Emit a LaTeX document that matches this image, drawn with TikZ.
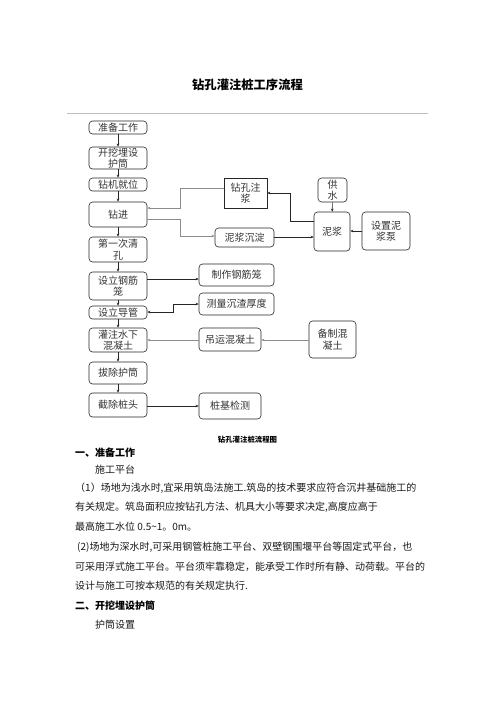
\documentclass[tikz,border=0pt]{standalone}
\usepackage{fontspec}
\setmainfont{Noto Sans CJK SC}
\usetikzlibrary{arrows.meta}
\begin{document}
\begin{tikzpicture}[x=1pt,y=-1pt,
  box/.style={draw=black!85, line width=0.6pt, rounded corners=3.5pt, align=center, inner sep=0pt,
    font=\fontsize{10}{11.5}\selectfont, text=black!80},
  sqbox/.style={box, rounded corners=0pt},
  arr/.style={-{Stealth[length=3pt,width=2.6pt]}, line width=0.6pt, draw=black!85},
  garr/.style={arr, draw=black!45},
  darr/.style={{Stealth[length=3pt,width=2.6pt]}-{Stealth[length=3pt,width=2.6pt]}, line width=0.6pt, draw=black!85},
  body/.style={anchor=west, inner sep=0pt, font=\fontsize{10}{12}\selectfont, text=black!90},
  head/.style={body, font=\fontsize{10}{12}\selectfont\bfseries, text=black}
]
\useasboundingbox (0,0) rectangle (496,702);

% title and rule
\node[inner sep=0pt, font=\fontsize{12.3}{14}\selectfont\bfseries] (title) at (247.5,85) {钻孔灌注桩工序流程};
\coordinate (rl) at (67,113.5);
\coordinate (rr) at (428,113.5);
\draw[black!25, line width=0.7pt] (rl) -- (rr);

% left column
\node[box, minimum width=58pt, minimum height=13pt] (a1) at (118,127.5) {准备工作};
\node[box, minimum width=58pt, minimum height=22pt] (a2) at (118,158) {开挖埋设\\护筒};
\node[box, minimum width=58pt, minimum height=13pt] (a3) at (118,184.5) {钻机就位};
\node[box, minimum width=58pt, minimum height=25pt] (a4) at (118,214.5) {钻进};
\node[box, minimum width=58pt, minimum height=25pt] (a5) at (118,249.5) {第一次清\\孔};
\node[box, minimum width=58pt, minimum height=28pt] (a6) at (118,286) {设立钢筋\\笼};
\node[box, minimum width=58pt, minimum height=13pt] (a7) at (118,312.5) {设立导管};
\node[box, minimum width=58pt, minimum height=24pt] (a8) at (118,340) {灌注水下\\混凝土};
\node[box, minimum width=58pt, minimum height=22pt] (a9) at (118,373) {拔除护筒};
\node[box, minimum width=58pt, minimum height=24pt] (a10) at (118,405) {截除桩头};

\draw[arr] (a1) -- (a2);
\draw[arr] (a2) -- (a3);
\draw[arr] (a3) -- (a4);
\draw[arr] (a4) -- (a5);
\draw[arr] (a5) -- (a6);
\draw[arr] (a6) -- (a7);
\draw[arr] (a7) -- (a8);
\draw[arr] (a8) -- (a9);
\draw[arr] (a9) -- (a10);

% right side nodes
\node[sqbox, minimum width=43pt, minimum height=30pt] (zkzj) at (245.5,193) {钻孔注\\浆};
\node[box, minimum width=59pt, minimum height=19pt] (njcd) at (244.5,237.5) {泥浆沉淀};
\node[box, minimum width=36pt, minimum height=39pt] (nj) at (332,231.5) {泥浆};
\node[box, minimum width=29pt, minimum height=24pt] (gs) at (332.5,190) {供\\水};
\node[box, minimum width=48pt, minimum height=38pt] (sz) at (386,231) {设置泥\\浆泵};
\node[box, minimum width=75pt, minimum height=22pt] (zz) at (236.5,275) {制作钢筋笼};
\node[box, minimum width=75pt, minimum height=22pt] (cl) at (236.5,304) {测量沉渣厚度};
\node[box, minimum width=62pt, minimum height=23pt] (dy) at (230,339.5) {吊运混凝土};
\node[box, minimum width=47pt, minimum height=37pt] (bz) at (332.5,339.5) {备制混\\凝土};
\node[box, minimum width=62pt, minimum height=26pt] (zj) at (230,406) {桩基检测};

% connectors
\draw[garr] (zkzj.west |- 0,188) -- (180,188) -- (180,208) -- (a4.east |- 0,208);
\draw[garr] (a4.east |- 0,219) -- (180,219) -- (180,236) -- (njcd.west |- 0,236);
\draw[arr] (njcd.east |- 0,237) -- (nj.west |- 0,237);
\draw[arr] (nj.west |- 0,221) -- (290,221) -- (290,193) -- (zkzj.east |- 0,193);
\draw[arr] (gs) -- (nj);
\draw[arr] (sz.west |- 0,231) -- (nj.east |- 0,231);
\draw[arr] (a6.east |- 0,279) -- (zz.west |- 0,279);
\draw[darr] (a7.east |- 0,312) -- (173,312) -- (173,304) -- (cl.west |- 0,304);
\draw[garr] (dy.west |- 0,340) -- (a8.east |- 0,340);
\draw[garr] (bz.west |- 0,340) -- (dy.east |- 0,340);
\draw[arr] (a10.east |- 0,406) -- (zj.west |- 0,406);

% caption
\node[inner sep=0pt, font=\fontsize{7.4}{9}\selectfont\bfseries] (cap) at (247.5,440) {钻孔灌注桩流程图};

% body text
\node[head] (t1) at (75,453) {一、准备工作};
\node[body] (t2) at (95,469.5) {施工平台};
\node[body] (t3) at (75,488.5) {（1）场地为浅水时,宜采用筑岛法施工.筑岛的技术要求应符合沉井基础施工的};
\node[body] (t4) at (75,507.5) {有关规定。筑岛面积应按钻孔方法、机具大小等要求决定,高度应高于};
\node[body] (t5) at (75,527) {最高施工水位 0.5\textasciitilde1。0m。};
\node[body] (t6) at (77,547) {(2)场地为深水时,可采用钢管桩施工平台、双壁钢围堰平台等固定式平台，也};
\node[body] (t7) at (75,566.5) {可采用浮式施工平台。平台须牢靠稳定，能承受工作时所有静、动荷载。平台的};
\node[body] (t8) at (75,585.5) {设计与施工可按本规范的有关规定执行.};
\node[head] (t9) at (75,605.5) {二、开挖埋设护筒};
\node[body] (t10) at (95,624.5) {护筒设置};
\end{tikzpicture}
\end{document}
